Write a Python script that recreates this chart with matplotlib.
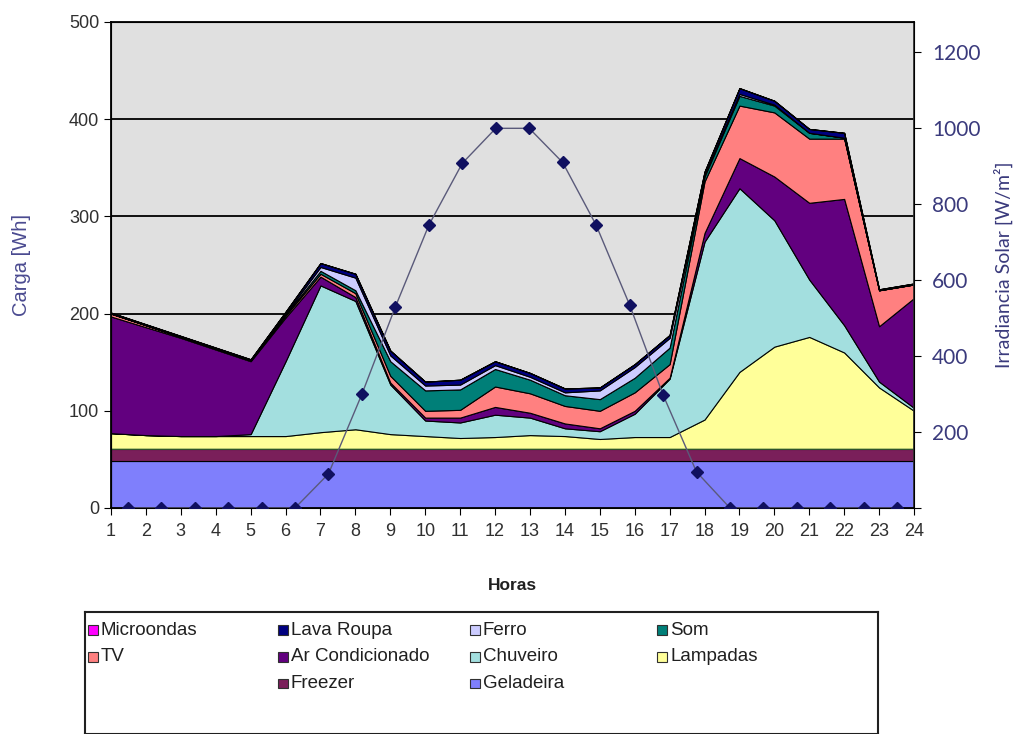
import matplotlib.pyplot as plt
from matplotlib.patches import Rectangle
from matplotlib.ticker import FuncFormatter
import numpy as np

# horas do dia
horas = np.arange(1, 25)

# cargas por aparelho [Wh] (ordem de empilhamento, de baixo para cima)
geladeira = [48] * 24
freezer = [13] * 24
lampadas = [16, 14, 13, 13, 13, 13, 17, 20, 15, 13, 11, 12,
            14, 13, 10, 12, 12, 30, 79, 105, 115, 99, 63, 39]
chuveiro = [0, 0, 0, 0, 2, 77, 151, 132, 51, 16, 16, 23,
            18, 8, 8, 24, 60, 183, 189, 130, 59, 28, 6, 3]
ar_condicionado = [120, 111, 101, 89, 75, 45, 9, 4, 2, 3, 5, 8,
                   5, 5, 3, 3, 1, 9, 31, 45, 79, 130, 57, 113]
tv = [3, 2, 1, 1, 1, 2, 3, 4, 7, 7, 8, 21,
      20, 18, 18, 19, 14, 53, 54, 66, 66, 62, 37, 14]
som = [0, 0, 0, 0, 0, 1, 3, 3, 15, 21, 21, 18,
       14, 11, 12, 15, 17, 5, 10, 7, 6, 1, 0, 0]
ferro = [0, 0, 0, 0, 0, 1, 4, 13, 6, 5, 5, 4,
         3, 3, 9, 11, 10, 2, 2, 1, 0, 0, 0, 0]
lava_roupa = [1, 1, 1, 1, 1, 2, 4, 4, 5, 4, 5, 4,
              4, 4, 3, 3, 3, 3, 6, 4, 4, 5, 1, 1]
microondas = [0] * 24

# irradiancia solar [W/m2]
irradiancia = [0, 0, 0, 0, 0, 0, 90, 300, 530, 745, 908, 1000,
               1000, 910, 745, 535, 298, 95, 0, 0, 0, 0, 0, 0]

series = [geladeira, freezer, lampadas, chuveiro, ar_condicionado,
          tv, som, ferro, lava_roupa, microondas]
nomes = ["Geladeira", "Freezer", "Lampadas", "Chuveiro", "Ar Condicionado",
         "TV", "Som", "Ferro", "Lava Roupa", "Microondas"]
cores = ["#7f7ffc", "#7a1f5a", "#ffff99", "#a3dfdf", "#62007f",
         "#ff8080", "#007f78", "#ccccff", "#000080", "#ff00ff"]

fig = plt.figure(figsize=(10.2, 7.34), dpi=100)
ax = fig.add_axes([111 / 1020, 1 - 508 / 734, 803 / 1020, 486 / 734])
ax.set_facecolor("#e0e0e0")

areas = ax.stackplot(horas, *series, colors=cores, edgecolor="black",
                     linewidth=0.8, zorder=2)
areas[2].set_edgecolor("#2f5f2f")  # contorno esverdeado das lampadas

ax.set_xlim(1, 24)
ax.set_ylim(0, 500)
ax.set_xticks(horas)
ax.set_yticks(range(0, 501, 100))
for y in range(100, 500, 100):
    ax.axhline(y, color="black", lw=1.3, zorder=1)
ax.tick_params(direction="out", length=5, color="black",
               labelsize=13, labelcolor="#303030")
ax.tick_params(axis="x", pad=6)
for s in ax.spines.values():
    s.set_color("black")
    s.set_linewidth(1.3)
ax.spines["right"].set_color("#303030")

ax.set_ylabel("Carga [Wh]", fontsize=14.5, color="#4a4a90",
              family="Liberation Sans")
ax.yaxis.set_label_coords(-0.1, 0.5)
ax.set_xlabel("Horas", fontsize=12.5, fontweight="bold", color="#202020",
              family="Liberation Sans")
ax.xaxis.set_label_coords(0.5, -0.145)
for lbl in ax.get_xticklabels() + ax.get_yticklabels():
    lbl.set_family("Liberation Sans")

# eixo secundario: irradiancia (categorias centradas entre marcas)
ax2 = ax.twinx()
ax2.set_ylim(0, 1280)
ax2.set_yticks(range(0, 1201, 200))
ax2.yaxis.set_major_formatter(FuncFormatter(lambda v, p: "" if v == 0 else f"{v:.0f}"))
ax2.tick_params(direction="out", length=5, color="black", pad=8,
                labelsize=15, labelcolor="#3a3a7c")
for lbl in ax2.get_yticklabels():
    lbl.set_family("Lato")
ax2.set_ylabel("Irradiancia Solar [W/m²]", fontsize=14, color="#3a3a7c",
               family="Lato", rotation=90)
ax2.yaxis.set_label_coords(1.099, 0.5)

ax3 = ax2.twiny()
ax3.set_xlim(0.5, 24.5)
ax3.xaxis.set_visible(False)
for s in ax3.spines.values():
    s.set_visible(False)
ax3.plot(horas, irradiancia, color="#5a5a7a", lw=1, marker="D",
         markersize=6, markerfacecolor="#101060", markeredgecolor="#101060",
         zorder=5)

# legenda (caixa estilo Excel)
lax = fig.add_axes([85 / 1020, 0, 793 / 1020, 122 / 734])
lax.set_xlim(85, 878)
lax.set_ylim(742, 614)
lax.set_xticks([])
lax.set_yticks([])
lax.patch.set_facecolor("white")
for s in lax.spines.values():
    s.set_color("#202020")
    s.set_linewidth(1.5)

col_x = [88, 278, 470, 657]
row_y = [633, 661, 689]
posicoes = {"Microondas": (0, 0), "Lava Roupa": (0, 1), "Ferro": (0, 2), "Som": (0, 3),
            "TV": (1, 0), "Ar Condicionado": (1, 1), "Chuveiro": (1, 2), "Lampadas": (1, 3),
            "Freezer": (2, 1), "Geladeira": (2, 2)}
for nome, cor in zip(nomes, cores):
    r, c = posicoes[nome]
    x, y = col_x[c], row_y[r]
    lax.add_patch(Rectangle((x, y - 5), 10, 10, facecolor=cor,
                            edgecolor="#303030", lw=0.8))
    lax.text(x + 13, y, nome, va="center", ha="left", fontsize=13.5,
             color="#202020", family="Liberation Sans")

fig.savefig("out.png", dpi=100)
